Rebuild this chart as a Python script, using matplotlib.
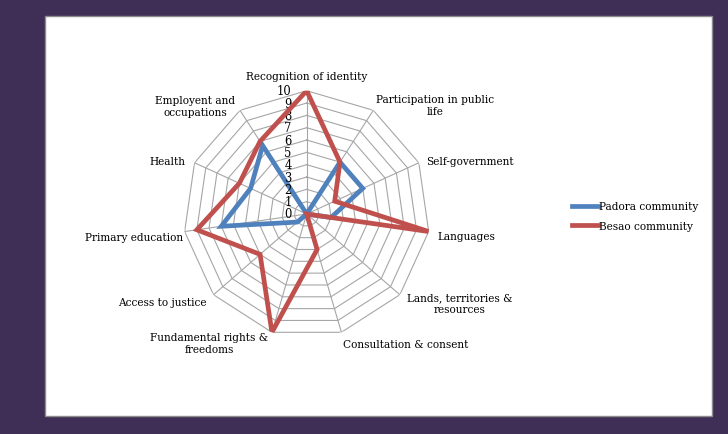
import numpy as np
import matplotlib
matplotlib.use('Agg')
from matplotlib import pyplot as plt
from matplotlib.patches import Rectangle

# categories clockwise from the top
categories = ['Recognition of identity', 'Participation in public\nlife',
              'Self-government', 'Languages', 'Lands, territories &\nresources',
              'Consultation & consent', 'Fundamental rights &\nfreedoms',
              'Access to justice', 'Primary education', 'Health',
              'Employent and\noccupations']
padora = [0, 5, 5, 2, 0, 0, 0, 1, 7, 5, 6.6]
besao = [10, 5, 2.5, 10, 0, 3, 10, 5, 9, 6, 7]
ring_values = list(range(0, 11))

# label placement (offset pixels from outer vertex, alignment)
label_style = [((0, 15), 'center'), ((3, 5), 'left'), ((7, 2), 'left'),
               ((9, -4), 'left'), ((7, -8), 'left'), ((1.5, -12), 'left'),
               ((-4, -11), 'right'), ((-7, -7), 'right'), ((-2, -5), 'right'),
               ((-9.5, 2), 'right'), ((-5, 4), 'right')]

plt.rcParams['font.family'] = 'DejaVu Serif'
fsize = 7.6
blue = '#4F81BD'
red = '#C0504D'
gridc = '#A6A6A6'

fig = plt.figure(figsize=(7.28, 4.35), dpi=100, facecolor='#3F2E56')
fig.patches.append(Rectangle((45 / 728, 1 - 417 / 435), 667 / 728, 400 / 435,
                             transform=fig.transFigure, facecolor='white',
                             edgecolor='#8C8C8C', lw=1, zorder=-5))

ax = fig.add_axes([0.2519, 0.2223, 0.3387, 0.5669], projection='polar')
ax.set_theta_offset(np.pi / 2)
ax.set_theta_direction(-1)
ax.set_ylim(0, 10)
ax.axis('off')

n = len(categories)
theta = np.arange(n) * 2 * np.pi / n
theta_c = np.append(theta, theta[0])

# polygon grid
for k in ring_values[1:]:
    ax.plot(theta_c, [k] * (n + 1), color=gridc, lw=0.8, zorder=1)
for t in theta:
    ax.plot([t, t], [0, 10], color=gridc, lw=0.8, zorder=1)

ax.plot(theta_c, padora + padora[:1], color=blue, lw=3.4, zorder=3,
        solid_joinstyle='miter', label='Padora community')
ax.plot(theta_c, besao + besao[:1], color=red, lw=3.4, zorder=4,
        solid_joinstyle='miter', label='Besao community')

for k in ring_values:
    ax.annotate(str(k), xy=(0, k), xytext=(-15, 0), textcoords='offset pixels',
                ha='right', va='center', fontsize=8.3, annotation_clip=False)

for t, lab, (off, ha) in zip(theta, categories, label_style):
    ax.annotate(lab, xy=(t, 10), xytext=off, textcoords='offset pixels',
                ha=ha, va='center', multialignment='center', fontsize=fsize,
                annotation_clip=False)

fig.legend(loc='center left', bbox_to_anchor=(562 / 728, 1 - 217 / 435),
           frameon=False, fontsize=fsize, handlelength=2.5, handletextpad=0.1,
           labelspacing=0.9)

fig.savefig('out.png', dpi=100, facecolor=fig.get_facecolor())
